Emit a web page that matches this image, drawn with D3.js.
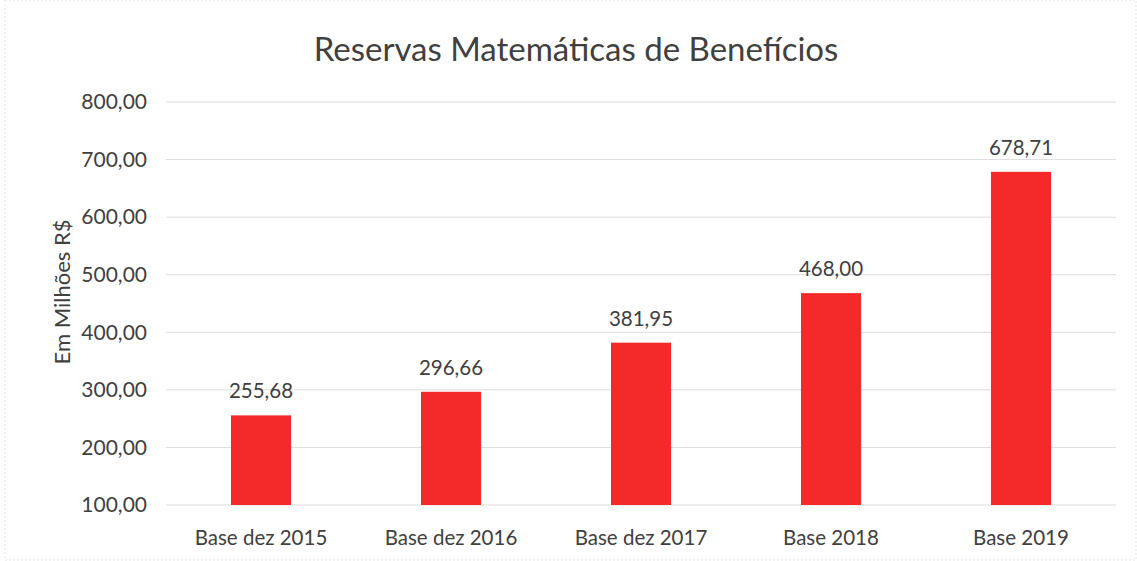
<!DOCTYPE html>
<html>
<head>
<meta charset="utf-8">
<script src="https://cdn.jsdelivr.net/npm/d3@7"></script>
<style>
  body { margin: 0; background: #fff; }
  svg text { font-family: Lato, "Open Sans", sans-serif; fill: #404040; }
</style>
</head>
<body>
<svg id="chart" width="1137" height="561"></svg>
<script>
const categories = ["Base dez 2015", "Base dez 2016", "Base dez 2017", "Base 2018", "Base 2019"];
const values = [255.68, 296.66, 381.95, 468.00, 678.71];
const yTicks = [100, 200, 300, 400, 500, 600, 700, 800];

const svg = d3.select("#chart");
const margin = {top: 102, right: 21, bottom: 56, left: 166};
const width = 1137 - margin.left - margin.right;
const height = 561 - margin.top - margin.bottom;

const fmt = v => d3.format(",.2f")(v).replace(/,/g, "X").replace(".", ",").replace(/X/g, ".");

const x = d3.scaleBand().domain(categories).range([0, width]).paddingInner(0.684).paddingOuter(0.342);
const y = d3.scaleLinear().domain([100, 800]).range([height, 0]);

// faint chart border
svg.append("rect")
    .attr("x", 5).attr("y", 0).attr("width", 1131).attr("height", 560)
    .attr("fill", "none").attr("stroke", "#e4e4e4").attr("stroke-dasharray", "2,2");

svg.append("text")
    .attr("x", 576).attr("y", 61)
    .attr("text-anchor", "middle")
    .style("font-size", "33px")
    .text("Reservas Matemáticas de Benefícios");

const g = svg.append("g").attr("transform", `translate(${margin.left},${margin.top})`);

g.selectAll("line.grid")
    .data(yTicks)
    .enter().append("line")
    .attr("class", "grid")
    .attr("x1", 0).attr("x2", width)
    .attr("y1", d => y(d)).attr("y2", d => y(d))
    .attr("stroke", "#dcdcdc").attr("stroke-width", 1);

g.selectAll("text.ytick")
    .data(yTicks)
    .enter().append("text")
    .attr("class", "ytick")
    .attr("x", -19).attr("y", d => y(d))
    .attr("dy", "0.35em")
    .attr("text-anchor", "end")
    .style("font-size", "21px")
    .text(fmt);

g.selectAll("rect.bar")
    .data(values)
    .enter().append("rect")
    .attr("class", "bar")
    .attr("x", (d, i) => x(categories[i]))
    .attr("width", x.bandwidth())
    .attr("y", d => y(d))
    .attr("height", d => y(100) - y(d))
    .attr("fill", "#f42a2a");

g.selectAll("text.label")
    .data(values)
    .enter().append("text")
    .attr("class", "label")
    .attr("x", (d, i) => x(categories[i]) + x.bandwidth() / 2)
    .attr("y", d => y(d) - 17)
    .attr("text-anchor", "middle")
    .style("font-size", "20.5px")
    .text(fmt);

g.selectAll("text.cat")
    .data(categories)
    .enter().append("text")
    .attr("class", "cat")
    .attr("x", d => x(d) + x.bandwidth() / 2)
    .attr("y", height + 40)
    .attr("text-anchor", "middle")
    .style("font-size", "20.5px")
    .text(d => d);

svg.append("text")
    .attr("transform", "translate(70,292) rotate(-90)")
    .attr("text-anchor", "middle")
    .style("font-size", "22px")
    .text("Em Milhões R$");
</script>
</body>
</html>
